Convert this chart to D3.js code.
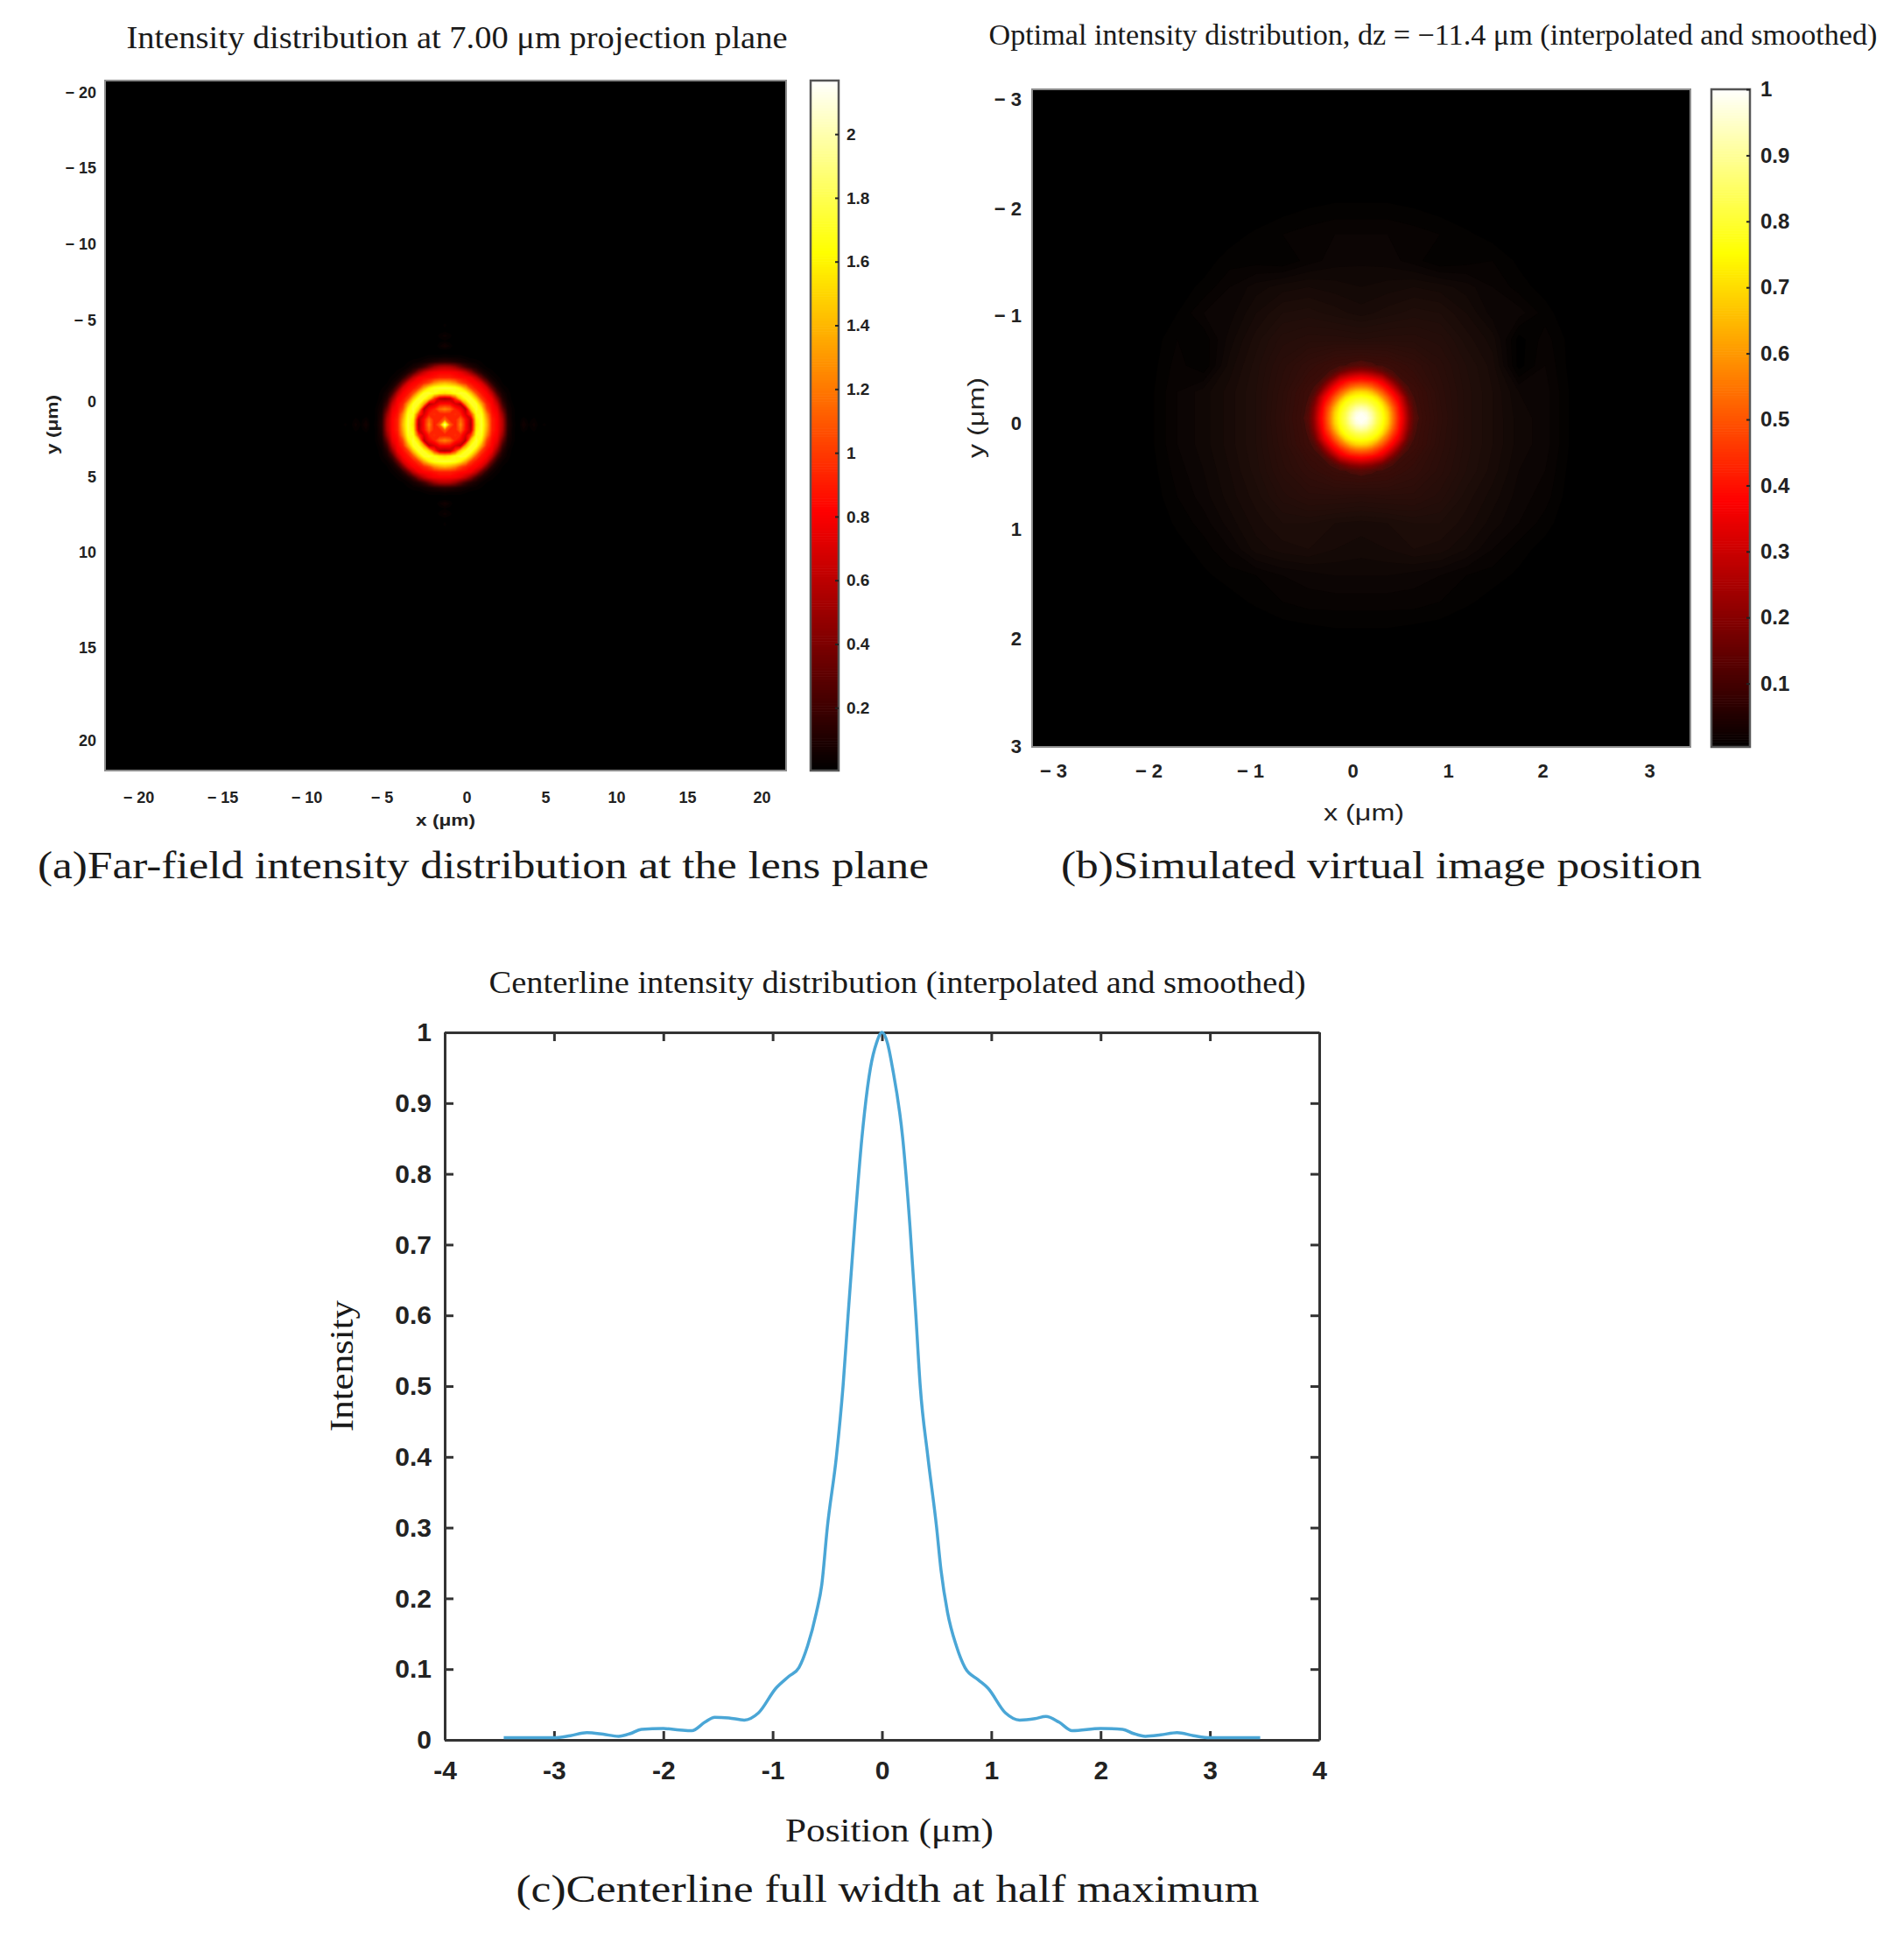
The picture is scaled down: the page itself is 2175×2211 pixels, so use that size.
<!DOCTYPE html>
<html>
<head>
<meta charset="utf-8">
<title>Intensity distributions</title>
<script src="https://cdn.jsdelivr.net/npm/d3@7"></script>
<style>
  html, body { margin: 0; padding: 0; background: #fff; }
  svg { display: block; }
  .serif { font-family: "Liberation Serif", serif; fill: #1a1a1a; }
  .sans { font-family: "Liberation Sans", sans-serif; fill: #222; }
  .tick text { font-family: "Liberation Sans", sans-serif; font-weight: 700; fill: #222; }
</style>
</head>
<body>
<svg id="chart"></svg>
<script>
// [A] Data ---------------------------------------------------------------------
const farTicksX = [-20, -15, -10, -5, 0, 5, 10, 15, 20];
const farTicksY = [-20, -15, -10, -5, 0, 5, 10, 15, 20];
const farBarTicks = [0.2, 0.4, 0.6, 0.8, 1, 1.2, 1.4, 1.6, 1.8, 2];
const virtTicksX = [-3, -2, -1, 0, 1, 2, 3];
const virtTicksY = [-3, -2, -1, 0, 1, 2, 3];
const virtBarTicks = [0.1, 0.2, 0.3, 0.4, 0.5, 0.6, 0.7, 0.8, 0.9, 1];
const lineTicksX = [-4, -3, -2, -1, 0, 1, 2, 3, 4];
const lineTicksY = [0, 0.1, 0.2, 0.3, 0.4, 0.5, 0.6, 0.7, 0.8, 0.9, 1];

// far field, one quadrant around the ring centre (step 0.339 um), rows are y, columns x
const farQuadrant = [
  [1.95, 1.15, .9, 1.25, .85, .55, 1.55, 1.75, 1.4, .92, .82, .6, .14, .04, 0, .07, .02, .05, .01, .03],
  [1.15, .92, .92, 1.15, .84, .6, 1.6, 1.74, 1.35, .92, .82, .58, .13, .03, 0, .04, .01, .03],
  [.92, .92, .95, .92, .7, 1.0, 1.68, 1.7, 1.25, .88, .8, .5, .11, .03],
  [1.25, 1.15, .92, .82, .6, 1.5, 1.75, 1.58, 1.05, .85, .75, .36, .08, .03],
  [.85, .84, .7, .6, 1.35, 1.7, 1.72, 1.35, .94, .83, .64, .22, .06, .02],
  [.55, .6, 1.0, 1.5, 1.7, 1.74, 1.45, 1.02, .86, .78, .46, .13, .04, .01],
  [1.55, 1.6, 1.68, 1.75, 1.72, 1.45, 1.08, .88, .82, .62, .24, .08, .03, .01],
  [1.75, 1.74, 1.7, 1.58, 1.35, 1.02, .88, .83, .7, .34, .11, .04, .02],
  [1.4, 1.35, 1.25, 1.05, .94, .86, .82, .7, .39, .14, .05, .02, .01],
  [.92, .92, .88, .85, .83, .78, .62, .34, .14, .05, .03, .01],
  [.82, .82, .8, .75, .64, .46, .24, .11, .05, .03, .01],
  [.6, .58, .5, .36, .22, .13, .08, .04, .02, .01],
  [.14, .13, .11, .08, .06, .04, .03, .02, .01],
  [.04, .03, .03, .03, .02, .01, .01],
  [0],
  [.07, .04],
  [.02, .01],
  [.05, .03],
  [.01],
  [.03]
];

// virtual image, bright core, one quadrant (step 0.0527 um)
const virtCore = [
  [1.0, .99, .93, .84, .78, .7, .56, .44, .34, .22, .13, .1],
  [.99, .97, .91, .83, .77, .69, .55, .43, .33, .21, .125, .09],
  [.93, .91, .86, .8, .75, .65, .52, .42, .31, .2, .115, .09],
  [.84, .83, .8, .77, .7, .58, .47, .39, .28, .17, .105, .09],
  [.78, .77, .75, .7, .6, .51, .42, .35, .25, .14, .1, .09],
  [.7, .69, .65, .58, .51, .43, .37, .28, .18, .11, .09, .09],
  [.56, .55, .52, .47, .42, .37, .29, .21, .13, .1, .09],
  [.44, .43, .42, .39, .35, .28, .21, .14, .1, .09],
  [.34, .33, .31, .28, .25, .18, .13, .1, .09],
  [.22, .21, .2, .17, .14, .11, .1, .09],
  [.13, .125, .115, .105, .1, .09],
  [.1, .09, .09]
];

// virtual image, faint halo, whole field (step 0.2634 um), values x 1000
const virtHalo = [
  [0, 0, 0, 0, 0, 0, 0, 0, 0, 0, 0, 0, 0, 0, 0, 0, 0, 0, 0],
  [0, 0, 0, 0, 0, 0, 2, 4, 5, 5, 5, 4, 2, 0, 0, 0, 0, 0, 0],
  [0, 0, 0, 0, 2, 5, 8, 10, 12, 12, 12, 10, 8, 5, 2, 0, 0, 0, 0],
  [0, 0, 0, 2, 6, 6, 4, 10, 14, 15, 14, 10, 4, 6, 8, 3, 0, 0, 0],
  [0, 0, 2, 5, 12, 18, 22, 24, 22, 20, 22, 24, 22, 18, 12, 6, 2, 0, 0],
  [0, 0, 4, 12, 14, 24, 32, 34, 30, 26, 30, 34, 32, 24, 14, 14, 6, 0, 0],
  [0, 1, 8, 5, 18, 30, 42, 46, 46, 44, 46, 46, 42, 30, 22, 2, 10, 2, 0],
  [0, 2, 10, 4, 22, 34, 50, 64, 78, 85, 78, 64, 50, 36, 26, 2, 12, 2, 0],
  [0, 3, 12, 18, 26, 36, 55, 80, 95, 100, 95, 80, 55, 38, 28, 16, 14, 3, 0],
  [0, 3, 12, 18, 26, 36, 58, 85, 100, 100, 100, 85, 58, 38, 28, 18, 14, 3, 0],
  [0, 3, 12, 18, 26, 36, 55, 80, 95, 100, 95, 80, 55, 38, 28, 18, 14, 3, 0],
  [0, 2, 10, 16, 24, 34, 50, 64, 78, 85, 78, 64, 50, 36, 26, 16, 12, 2, 0],
  [0, 1, 8, 14, 22, 30, 42, 50, 50, 48, 50, 50, 42, 30, 22, 14, 10, 1, 0],
  [0, 0, 5, 10, 18, 26, 32, 32, 28, 26, 28, 32, 32, 26, 18, 12, 6, 0, 0],
  [0, 0, 2, 6, 12, 22, 26, 28, 24, 22, 24, 28, 26, 20, 12, 6, 2, 0, 0],
  [0, 0, 0, 3, 6, 8, 12, 14, 16, 16, 16, 14, 12, 8, 6, 3, 0, 0, 0],
  [0, 0, 0, 0, 2, 5, 8, 10, 10, 10, 10, 10, 8, 5, 2, 0, 0, 0, 0],
  [0, 0, 0, 0, 0, 0, 2, 3, 4, 4, 4, 3, 2, 0, 0, 0, 0, 0, 0],
  [0, 0, 0, 0, 0, 0, 0, 0, 0, 0, 0, 0, 0, 0, 0, 0, 0, 0, 0]
];

// centerline curve
const linePositions = [-3.46, -3.2, -3.0, -2.85, -2.7, -2.55, -2.41, -2.3, -2.2, -2.0, -1.85, -1.74, -1.62, -1.53, -1.4, -1.26, -1.13, -0.97, -0.85, -0.76, -0.68, -0.6, -0.55, -0.5, -0.417, -0.356, -0.31, -0.25, -0.184, -0.105, -0.05, 0,
  0.05, 0.096, 0.19, 0.256, 0.31, 0.35, 0.42, 0.5, 0.54, 0.6, 0.68, 0.76, 0.88, 0.97, 1.13, 1.26, 1.4, 1.5, 1.62, 1.74, 2.0, 2.2, 2.3, 2.41, 2.55, 2.7, 2.85, 3.0, 3.2, 3.46];
const lineIntensity = [0.003, 0.003, 0.003, 0.006, 0.0103, 0.008, 0.005, 0.009, 0.015, 0.016, 0.014, 0.013, 0.025, 0.032, 0.031, 0.028, 0.038, 0.073, 0.09, 0.102, 0.133, 0.18, 0.22, 0.3, 0.4, 0.5, 0.6, 0.726, 0.85, 0.95, 0.985, 1,
  0.985, 0.95, 0.85, 0.726, 0.6, 0.5, 0.4, 0.3, 0.24, 0.18, 0.133, 0.102, 0.085, 0.073, 0.038, 0.028, 0.03, 0.033, 0.025, 0.013, 0.016, 0.015, 0.009, 0.005, 0.007, 0.0103, 0.006, 0.003, 0.003, 0.003];

// [B] Setup --------------------------------------------------------------------
const width = 2175;
const height = 2211;
const svg = d3.select("#chart").attr("width", width).attr("height", height);

const hot = d3.scaleLinear()
  .domain([0, 0.375, 0.75, 1])
  .range(["#000000", "#ff0000", "#ffff00", "#ffffff"])
  .clamp(true);

// the faint halo of panel b looks brown rather than pure red
const haloColor = d3.scaleLinear()
  .domain([0, 0.03, 0.1])
  .range(["#000000", "#1e0d09", "#4a0c08"])
  .clamp(true);

const minusFormat = d => (d < 0 ? "\u2212 " + (-d) : String(d));

// [C] Helpers ------------------------------------------------------------------
// stretch a quadrant table to the whole field, short rows are zero
function mirrorQuadrant(rows) {
  const n = rows.length;
  const size = 2 * n + 1;
  const out = new Array(size * size).fill(0);
  rows.forEach((row, j) => row.forEach((v, i) => {
    [n - j, n + j].forEach(y => [n - i, n + i].forEach(x => { out[y * size + x] = v; }));
  }));
  return { values: out, size };
}

function drawField(g, field, center, step, xScale, yScale, thresholds, colorOf) {
  const half = (field.size - 1) / 2;
  const gridX = d3.scaleLinear().domain([0.5, field.size - 0.5]).range([center[0] - half * step, center[0] + half * step]);
  const gridY = d3.scaleLinear().domain([0.5, field.size - 0.5]).range([center[1] - half * step, center[1] + half * step]);
  const path = d3.geoPath(d3.geoTransform({
    point(x, y) { this.stream.point(xScale(gridX(x)), yScale(gridY(y))); }
  }));
  const contours = d3.contours().size([field.size, field.size]).smooth(true).thresholds(thresholds)(field.values);
  g.selectAll(null).data(contours).join("path")
    .attr("d", path)
    .attr("fill", d => colorOf(d.value));
}

function drawColorbar(box, domain, ticks, fontSize, padding) {
  const barY = d3.scaleLinear().domain(domain).range([box.bottom, box.top]);
  const g = svg.append("g");
  const levels = d3.range(0, 257).map(i => domain[0] + (domain[1] - domain[0]) * i / 256);
  g.selectAll("rect").data(levels.slice(0, -1)).join("rect")
    .attr("x", box.left)
    .attr("width", box.right - box.left)
    .attr("y", (d, i) => barY(levels[i + 1]))
    .attr("height", (d, i) => barY(levels[i]) - barY(levels[i + 1]) + 0.6)
    .attr("fill", d => hot(d / domain[1]));
  g.append("rect")
    .attr("x", box.left).attr("y", box.top)
    .attr("width", box.right - box.left).attr("height", box.bottom - box.top)
    .attr("fill", "none").attr("stroke", "#555").attr("stroke-width", 2.5);
  const axis = svg.append("g")
    .attr("transform", `translate(${box.right},0)`)
    .call(d3.axisRight(barY).tickValues(ticks).tickSize(-4).tickPadding(padding).tickFormat(d => String(d)));
  axis.select(".domain").remove();
  axis.selectAll("line").attr("stroke", "#222").attr("stroke-width", 2);
  axis.selectAll("text").attr("font-size", fontSize);
}

function fitText(x, y, text, cls, fontSize, length, rotate) {
  const t = svg.append("text")
    .attr("class", cls)
    .attr("text-anchor", "middle")
    .attr("font-size", fontSize)
    .attr("textLength", length)
    .attr("lengthAdjust", "spacingAndGlyphs")
    .text(text);
  if (rotate) t.attr("transform", `translate(${x},${y}) rotate(-90)`);
  else t.attr("x", x).attr("y", y);
  return t;
}

function drawLabelAxis(axisFn, scale, ticks, transform, fontSize) {
  const axis = svg.append("g")
    .attr("transform", transform)
    .call(axisFn(scale).tickValues(ticks).tickSize(0).tickPadding(0).tickFormat(minusFormat));
  axis.select(".domain").remove();
  axis.selectAll("text").attr("font-size", fontSize);
}

function framedPlot(box, id) {
  svg.append("rect")
    .attr("x", box.left).attr("y", box.top)
    .attr("width", box.right - box.left).attr("height", box.bottom - box.top)
    .attr("fill", "#000").attr("stroke", "#8c8c8c").attr("stroke-width", 2);
  svg.append("clipPath").attr("id", id).append("rect")
    .attr("x", box.left).attr("y", box.top)
    .attr("width", box.right - box.left).attr("height", box.bottom - box.top);
  return svg.append("g").attr("clip-path", `url(#${id})`);
}

// [D] Panel a: far field -------------------------------------------------------
function drawFar() {
  const box = { left: 120, right: 898, top: 92, bottom: 880 };
  const x = d3.scaleLinear().domain([-22, 22]).range([box.left, box.right]);
  const y = d3.scaleLinear().domain([-22.28, 22.28]).range([box.top, box.bottom]);
  const peak = 2.168;
  const g = framedPlot(box, "clipFar");
  drawField(g, mirrorQuadrant(farQuadrant), [-0.05, -0.05], 0.339, x, y,
    d3.range(0.02, 2.0, 0.02), v => hot(v / peak));

  // the tick labels of the figure are not evenly spaced
  const labelX = d3.scaleLinear().domain(farTicksX).range([158, 254, 350, 436, 533, 623, 704, 785, 870]);
  const labelY = d3.scaleLinear().domain(farTicksY).range([106, 192, 279, 366, 459, 545, 631, 740, 846]);
  drawLabelAxis(d3.axisBottom, labelX, farTicksX, "translate(0,904)", 18);
  drawLabelAxis(d3.axisLeft, labelY, farTicksY, "translate(110,0)", 18);

  drawColorbar({ left: 926, right: 958, top: 92, bottom: 880 }, [0.003, peak], farBarTicks, 19, 9);

  fitText(522, 55, "Intensity distribution at 7.00 \u03bcm projection plane", "serif", 36, 755);
  fitText(509, 943, "x (\u03bcm)", "sans", 18, 68).attr("font-weight", 700);
  fitText(66, 485, "y (\u03bcm)", "sans", 18, 68, true).attr("font-weight", 700);
  fitText(552, 1003, "(a)Far-field intensity distribution at the lens plane", "serif", 44, 1018);
}

// [E] Panel b: virtual image ---------------------------------------------------
function drawVirtual() {
  const box = { left: 1179, right: 1931, top: 102, bottom: 853 };
  const x = d3.scaleLinear().domain([-3.3, 3.3]).range([box.left, box.right]);
  const y = d3.scaleLinear().domain([-3.3, 3.3]).range([box.top, box.bottom]);
  const g = framedPlot(box, "clipVirt");
  const center = [0, 0];

  const halo = { values: virtHalo.flat().map(d => d / 1000), size: virtHalo.length };
  drawField(g, halo, center, 0.2634, x, y, d3.range(0.004, 0.1, 0.004), haloColor);
  drawField(g, mirrorQuadrant(virtCore), center, 0.0527, x, y, d3.range(0.1, 1.0, 0.01),
    v => (v < 0.2 ? d3.interpolateRgb(haloColor(0.1), hot(0.2))((v - 0.1) / 0.1) : hot(v)));

  const labelX = d3.scaleLinear().domain(virtTicksX).range([1203, 1312, 1428, 1545, 1654, 1762, 1884]);
  const labelY = d3.scaleLinear().domain(virtTicksY).range([113, 238, 360, 483, 604, 729, 852]);
  drawLabelAxis(d3.axisBottom, labelX, virtTicksX, "translate(0,872)", 22);
  drawLabelAxis(d3.axisLeft, labelY, virtTicksY, "translate(1167,0)", 22);

  drawColorbar({ left: 1955, right: 1999, top: 102, bottom: 853 }, [0.004, 1], virtBarTicks, 24, 12);

  fitText(1637, 51, "Optimal intensity distribution, dz = \u221211.4 \u03bcm (interpolated and smoothed)", "serif", 33, 1015);
  fitText(1558, 937, "x (\u03bcm)", "sans", 26, 92);
  fitText(1124, 477, "y (\u03bcm)", "sans", 26, 92, true);
  fitText(1578, 1003, "(b)Simulated virtual image position", "serif", 44, 732);
}

// [F] Panel c: centerline ------------------------------------------------------
function drawLine() {
  const box = { left: 508, right: 1507, top: 1179, bottom: 1987 };
  const x = d3.scaleLinear().domain([-4, 4]).range([box.left, box.right]);
  const y = d3.scaleLinear().domain([0, 1]).range([box.bottom, box.top]);

  const axes = [
    [d3.axisBottom(x).tickValues(lineTicksX).tickFormat(d => String(d)).tickPadding(24), `translate(0,${box.bottom})`],
    [d3.axisLeft(y).tickValues(lineTicksY).tickFormat(d => String(d)).tickPadding(15), `translate(${box.left},0)`],
    [d3.axisTop(x).tickValues(lineTicksX).tickFormat(""), `translate(0,${box.top})`],
    [d3.axisRight(y).tickValues(lineTicksY).tickFormat(""), `translate(${box.right},0)`]
  ];
  axes.forEach(([axis, transform]) => {
    const g = svg.append("g").attr("transform", transform)
      .call(axis.tickSizeInner(-10).tickSizeOuter(0));
    g.select(".domain").attr("stroke", "#333").attr("stroke-width", 3);
    g.selectAll("line").attr("stroke", "#333").attr("stroke-width", 3);
    g.selectAll("text").attr("font-size", 30).attr("fill", "#333");
  });

  const line = d3.line()
    .x(d => x(d[0]))
    .y(d => y(d[1]))
    .curve(d3.curveMonotoneX);
  svg.append("path")
    .datum(d3.zip(linePositions, lineIntensity))
    .attr("d", line)
    .attr("fill", "none")
    .attr("stroke", "#4aa6d6")
    .attr("stroke-width", 3.5);

  fitText(1025, 1134, "Centerline intensity distribution (interpolated and smoothed)", "serif", 35, 933);
  fitText(1016, 2103, "Position (\u03bcm)", "serif", 38, 238);
  fitText(403, 1560, "Intensity", "serif", 38, 150, true);
  fitText(1014, 2172, "(c)Centerline full width at half maximum", "serif", 44, 849);
}

// [Z] Draw ---------------------------------------------------------------------
drawFar();
drawVirtual();
drawLine();
</script>
</body>
</html>
